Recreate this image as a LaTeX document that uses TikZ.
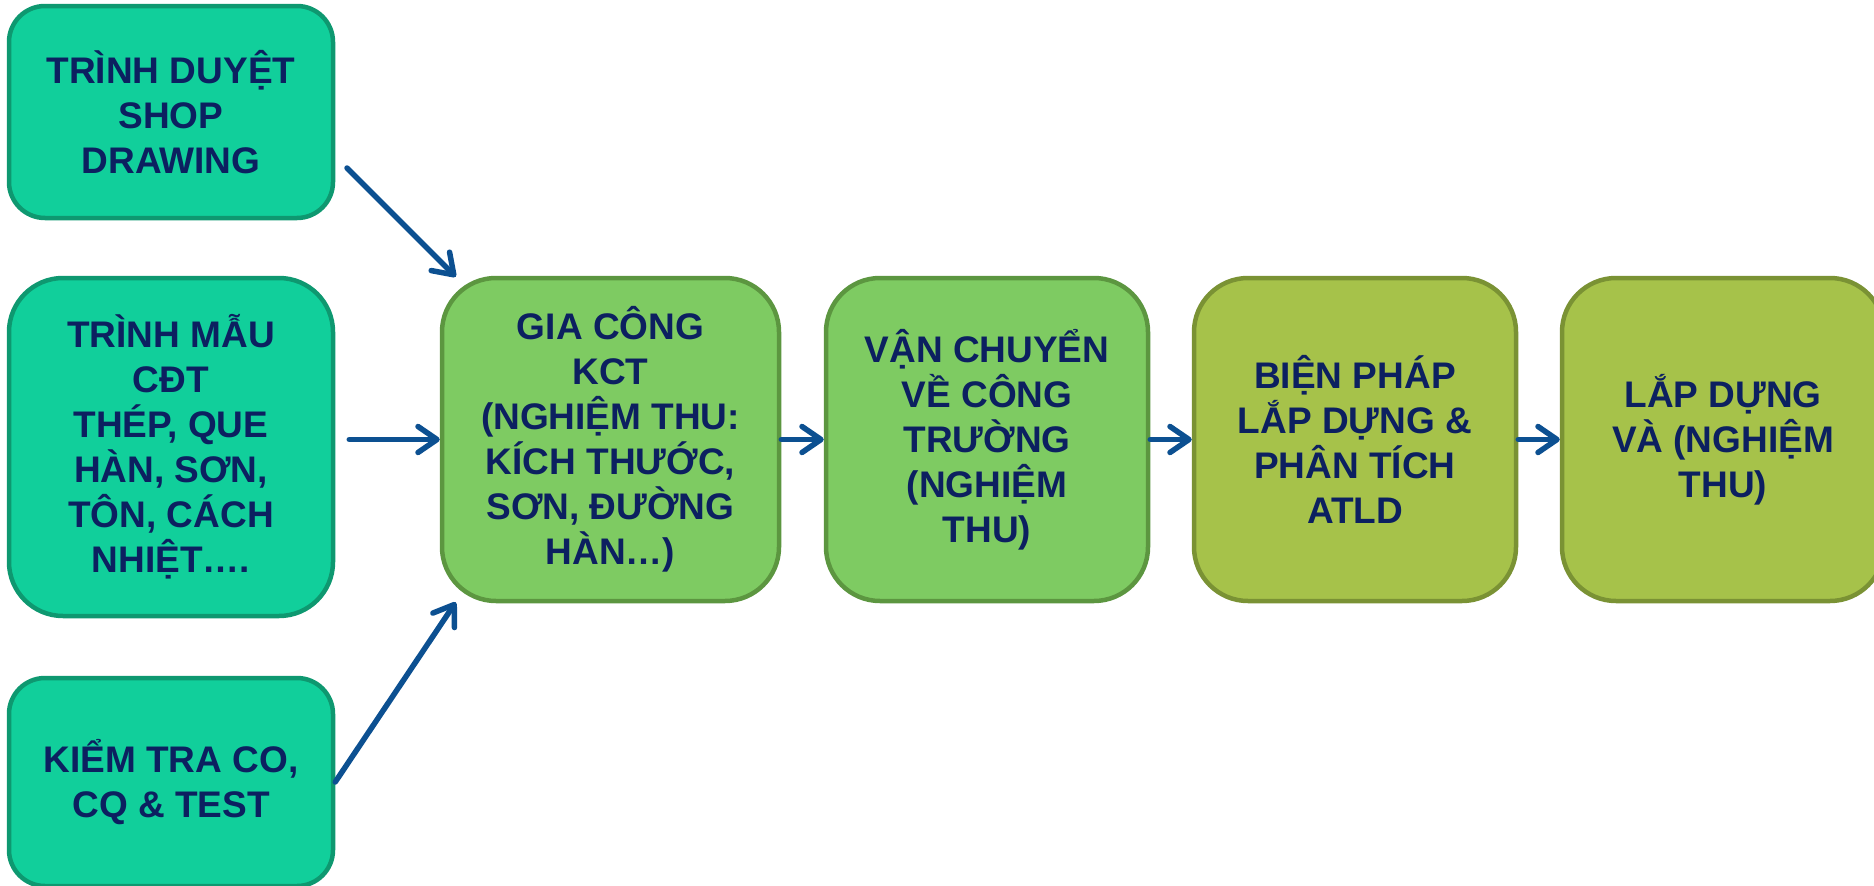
\documentclass[tikz,border=0pt]{standalone}
\usepackage{fontspec}
\setmainfont{Liberation Sans}
\usetikzlibrary{arrows.meta,calc}
\definecolor{tealfill}{RGB}{17,207,155}
\definecolor{tealline}{RGB}{14,152,112}
\definecolor{greenfill}{RGB}{126,203,98}
\definecolor{greenline}{RGB}{92,150,64}
\definecolor{olivefill}{RGB}{166,194,74}
\definecolor{oliveline}{RGB}{122,146,52}
\definecolor{navytext}{RGB}{12,32,96}
\definecolor{arrowblue}{RGB}{12,80,145}
\tikzset{
  boxbase/.style={draw, line width=4.5pt, align=center, inner sep=0pt,
    text=navytext, font=\bfseries\fontsize{37}{45}\selectfont},
  tealbox/.style={boxbase, fill=tealfill, draw=tealline},
  greenbox/.style={boxbase, fill=greenfill, draw=greenline},
  olivebox/.style={boxbase, fill=olivefill, draw=oliveline},
  arr/.style={draw=arrowblue, line width=5.5pt, line cap=round,
    -{Straight Barb[length=19pt,width=26pt,line width=5.5pt,line cap=round,line join=round]}},
}
\begin{document}
\begin{tikzpicture}[x=1pt,y=-1pt]
\useasboundingbox (0,0) rectangle (1874,886);
\node[tealbox, minimum width=324pt, minimum height=212pt, rounded corners=36pt] (b1) at (171,112) {TRÌNH DUYỆT\\SHOP\\DRAWING};
\node[tealbox, minimum width=324pt, minimum height=338pt, rounded corners=54pt] (b2) at (171,447) {TRÌNH MẪU\\CĐT\\THÉP, QUE\\HÀN, SƠN,\\TÔN, CÁCH\\NHIỆT….};
\node[tealbox, minimum width=324pt, minimum height=208pt, rounded corners=36pt] (b3) at (171,782) {KIỂM TRA CO,\\CQ \& TEST};
\node[greenbox, minimum width=337pt, minimum height=323pt, rounded corners=54pt] (gia) at (610.5,439.5) {GIA CÔNG\\KCT\\(NGHIỆM THU:\\KÍCH THƯỚC,\\SƠN, ĐƯỜNG\\HÀN…)};
\node[greenbox, minimum width=322pt, minimum height=323pt, rounded corners=54pt] (van) at (987,439.5) {VẬN CHUYỂN\\VỀ CÔNG\\TRƯỜNG\\(NGHIỆM\\THU)};
\node[olivebox, minimum width=322pt, minimum height=323pt, rounded corners=54pt] (bien) at (1355,439.5) {BIỆN PHÁP\\LẮP DỰNG \&\\PHÂN TÍCH\\ATLD};
\node[olivebox, minimum width=322pt, minimum height=323pt, rounded corners=54pt] (lap) at (1723,439.5) {LẮP DỰNG\\VÀ (NGHIỆM\\THU)};
\coordinate (s1) at (347,168);
\coordinate (e1) at ($(gia.north west)+(16,1)$);
\coordinate (s2) at ($(b2.east|-gia.west)+(14,0)$);
\coordinate (e3) at ($(gia.south west)+(16,-1)$);
\draw[arr] (s1) -- (e1);
\draw[arr] (s2) -- (gia.west);
\draw[arr] (b3.east) -- (e3);
\draw[arr] (gia.east) -- (van.west);
\draw[arr] (van.east) -- (bien.west);
\draw[arr] (bien.east) -- (lap.west);
\end{tikzpicture}
\end{document}
